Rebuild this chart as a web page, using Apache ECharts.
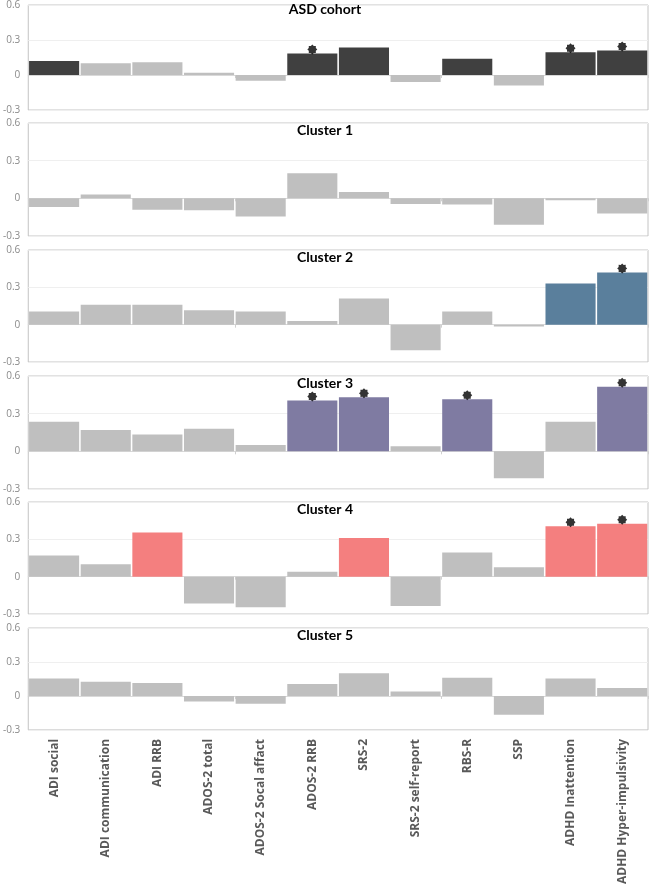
<!DOCTYPE html>
<html>
<head>
<meta charset="utf-8">
<script src="https://cdn.jsdelivr.net/npm/echarts@6/dist/echarts.min.js"></script>
<style>
  html, body { margin: 0; padding: 0; background: #ffffff; }
  #chart { width: 650px; height: 887px; }
</style>
</head>
<body>
<div id="chart"></div>
<script>
// ---- data ----
var categories = ['ADI social', 'ADI communication', 'ADI RRB', 'ADOS-2 total', 'ADOS-2 Socal affact',
  'ADOS-2 RRB', 'SRS-2', 'SRS-2 self-report', 'RBS-R', 'SSP', 'ADHD Inattention', 'ADHD Hyper-impulsivity'];
var panelTitles = ['ASD cohort', 'Cluster 1', 'Cluster 2', 'Cluster 3', 'Cluster 4', 'Cluster 5'];
var yTicks = [-0.3, 0, 0.3, 0.6];

var asdCohort = [0.12, 0.10, 0.11, 0.02, -0.05, 0.185, 0.235, -0.06, 0.14, -0.09, 0.195, 0.21];
var cluster1  = [-0.07, 0.03, -0.09, -0.095, -0.145, 0.20, 0.05, -0.045, -0.05, -0.21, -0.015, -0.12];
var cluster2  = [0.105, 0.16, 0.16, 0.115, 0.105, 0.03, 0.21, -0.205, 0.105, -0.015, 0.33, 0.42];
var cluster3  = [0.235, 0.17, 0.135, 0.18, 0.05, 0.405, 0.43, 0.04, 0.415, -0.215, 0.235, 0.515];
var cluster4  = [0.17, 0.10, 0.355, -0.215, -0.245, 0.04, 0.31, -0.235, 0.195, 0.075, 0.405, 0.425];
var cluster5  = [0.155, 0.125, 0.115, -0.05, -0.07, 0.105, 0.20, 0.04, 0.16, -0.165, 0.155, 0.07];

// indices of coloured (highlighted) bars per panel
var highlightASD = [0, 5, 6, 8, 10, 11];
var highlightC1 = [];
var highlightC2 = [10, 11];
var highlightC3 = [5, 6, 8, 11];
var highlightC4 = [2, 6, 10, 11];
var highlightC5 = [];

// indices of bars marked with a significance star
var starsASD = [5, 10, 11];
var starsC1 = [];
var starsC2 = [11];
var starsC3 = [5, 6, 8, 11];
var starsC4 = [10, 11];
var starsC5 = [];

// ---- styling ----
var panelValues = [asdCohort, cluster1, cluster2, cluster3, cluster4, cluster5];
var panelHighlights = [highlightASD, highlightC1, highlightC2, highlightC3, highlightC4, highlightC5];
var panelStars = [starsASD, starsC1, starsC2, starsC3, starsC4, starsC5];
var highlightColors = ['#404040', '#bfbfbf', '#5a7f9c', '#7f7ba2', '#f47f7f', '#bfbfbf'];
var baseColor = '#bfbfbf';
var gridTops = [2, 123, 250, 376, 502, 628];
var gridHeights = [108, 113, 112, 113, 112, 111];

function starPath(n, rOuter, rInner) {
  var d = '';
  for (var i = 0; i < n * 2; i++) {
    var r = (i % 2 === 0) ? rOuter : rInner;
    var a = Math.PI * i / n - Math.PI / 2;
    var x = (50 + r * Math.cos(a)).toFixed(2);
    var y = (50 + r * Math.sin(a)).toFixed(2);
    d += (i === 0 ? 'M' : 'L') + x + ' ' + y;
  }
  return 'path://' + d + 'Z';
}
var starSymbol = starPath(8, 50, 38);

var grids = [], xAxes = [], yAxes = [], series = [], titles = [];
for (var p = 0; p < 6; p++) {
  grids.push({
    left: 25, right: 2, top: gridTops[p], height: gridHeights[p],
    show: true, borderColor: '#c4c4c4', borderWidth: 1, backgroundColor: 'transparent'
  });
  titles.push({
    text: panelTitles[p],
    left: 320, top: gridTops[p] - 5, textAlign: 'center',
    textStyle: { fontFamily: 'Lato', fontWeight: 'bold', fontSize: 14, color: '#000000' }
  });
  xAxes.push({
    type: 'category', gridIndex: p, data: categories,
    axisLine: { show: true, onZero: true, lineStyle: { color: '#d9d9d9', width: 1 } },
    axisTick: { show: true, length: 3, lineStyle: { color: '#d0d0d0' } },
    axisLabel: { show: false },
    splitLine: { show: false }
  });
  yAxes.push({
    type: 'value', gridIndex: p, min: -0.3, max: 0.6, interval: 0.3,
    axisLine: { show: false }, axisTick: { show: false },
    axisLabel: {
      show: true, margin: 8, fontSize: 10, color: '#8a8a8a', fontFamily: 'Open Sans',
      formatter: function (v) { return Math.abs(v) < 1e-9 ? '0' : v.toFixed(1); }
    },
    splitLine: { show: true, lineStyle: { color: '#efefef', width: 1 } }
  });
  var vals = panelValues[p];
  var hl = panelHighlights[p];
  var barData = vals.map(function (v, i) {
    return { value: v, itemStyle: { color: hl.indexOf(i) >= 0 ? highlightColors[p] : baseColor } };
  });
  series.push({
    type: 'bar', xAxisIndex: p, yAxisIndex: p, data: barData,
    barCategoryGap: '3%', animation: false, silent: true
  });
  var st = panelStars[p];
  var starData = vals.map(function (v, i) { return st.indexOf(i) >= 0 ? v : '-'; });
  series.push({
    type: 'scatter', xAxisIndex: p, yAxisIndex: p, data: starData,
    symbol: starSymbol, symbolSize: 10, symbolOffset: [0, -4],
    itemStyle: { color: '#000000' }, animation: false, silent: true, z: 5
  });
}
// bottom category labels for the last panel
xAxes.push({
  type: 'category', gridIndex: 5, data: categories, position: 'bottom',
  axisLine: { show: false, onZero: false }, axisTick: { show: false },
  axisLabel: {
    show: true, rotate: 90, margin: 9, interval: 0,
    fontFamily: 'Open Sans', fontWeight: 'bold', fontSize: 12, color: '#595959'
  },
  splitLine: { show: false }
});

var chart = echarts.init(document.getElementById('chart'), null, { renderer: 'canvas' });
chart.setOption({
  backgroundColor: '#ffffff',
  animation: false,
  title: titles,
  grid: grids,
  xAxis: xAxes,
  yAxis: yAxes,
  series: series
});
</script>
</body>
</html>
